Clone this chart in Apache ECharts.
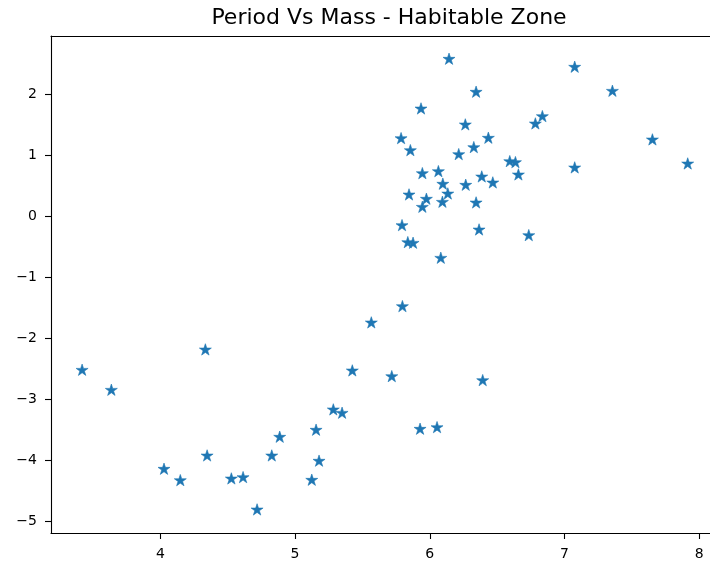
<!DOCTYPE html>
<html>
<head>
<meta charset="utf-8">
<script src="https://cdn.jsdelivr.net/npm/echarts@6/dist/echarts.min.js"></script>
<style>
html,body{margin:0;padding:0;background:#fff;}
#chart{width:710px;height:564px;}
</style>
</head>
<body>
<div id="chart"></div>
<script>
const chartTitle = "Period Vs Mass - Habitable Zone";

const massValues = [
  3.419, 3.636, 4.334, 4.027, 4.148, 4.347, 4.527, 4.614, 4.827, 4.886,
  4.718, 5.797, 5.566, 5.425, 5.718, 6.393, 5.284, 5.349, 5.156, 5.928,
  6.054, 5.178, 5.124,
  6.143, 6.344, 5.935, 6.264, 5.787, 6.435, 5.856, 6.327, 6.215, 6.784,
  6.836, 6.594, 6.636, 6.658, 5.945, 6.064, 6.097, 6.267, 6.386, 6.468,
  6.134, 5.846, 5.975, 5.945, 6.094, 6.344, 5.794, 6.366, 6.735, 5.837,
  5.876, 6.082, 7.076, 7.356, 7.653, 7.076, 7.915
];
const periodValues = [
  -2.520, -2.848, -2.187, -4.143, -4.330, -3.925, -4.302, -4.280, -3.925, -3.618,
  -4.810, -1.477, -1.744, -2.531, -2.625, -2.690, -3.170, -3.225, -3.503, -3.487,
  -3.461, -4.011, -4.323,
  2.579, 2.038, 1.764, 1.502, 1.277, 1.284, 1.080, 1.130, 1.015, 1.518,
  1.638, 0.900, 0.884, 0.682, 0.703, 0.736, 0.530, 0.513, 0.649, 0.551,
  0.370, 0.354, 0.284, 0.152, 0.234, 0.223, -0.149, -0.220, -0.313, -0.428,
  -0.438, -0.684, 2.448, 2.054, 1.256, 0.797, 0.862
];
const xTickValues = [4, 5, 6, 7, 8];
const yTickValues = [-5, -4, -3, -2, -1, 0, 1, 2];

const points = massValues.map((x, i) => [x, periodValues[i]]);
const fmt = v => String(v).replace('-', '\u2212');
const FONT = 'DejaVu Sans';
const starPath = 'path://M100,0 L122.45,69.1 L195.11,69.1 L136.33,111.8 L158.78,180.9 L100,138.2 L41.22,180.9 L63.67,111.8 L4.89,69.1 L77.55,69.1 Z';
const spine = {color: '#000', width: 1.1};

const chart = echarts.init(document.getElementById('chart'), null, {renderer: 'canvas'});
chart.setOption({
  animation: false,
  backgroundColor: '#fff',
  title: {
    text: chartTitle,
    left: 384,
    textAlign: 'center',
    top: 2,
    textStyle: {fontFamily: FONT, fontSize: 22, fontWeight: 'normal', color: '#000'}
  },
  grid: {left: 51, top: 36, right: 0, bottom: 31, show: false},
  xAxis: [{
    type: 'value',
    position: 'bottom',
    min: 3.188, max: 8.0805,
    splitLine: {show: false},
    axisLine: {show: true, onZero: false, lineStyle: spine},
    axisTick: {show: true, inside: false, length: 6, customValues: xTickValues, lineStyle: spine},
    axisLabel: {customValues: xTickValues, formatter: fmt, margin: 14,
      fontFamily: FONT, fontSize: 14, color: '#000'}
  }, {
    type: 'value',
    position: 'top',
    min: 3.188, max: 8.0805,
    splitLine: {show: false},
    axisLine: {show: true, onZero: false, lineStyle: spine},
    axisTick: {show: false},
    axisLabel: {show: false}
  }],
  yAxis: {
    type: 'value',
    min: -5.187, max: 2.961,
    splitLine: {show: false},
    axisLine: {show: true, onZero: false, lineStyle: spine},
    axisTick: {show: true, inside: false, length: 6, customValues: yTickValues, lineStyle: spine},
    axisLabel: {customValues: yTickValues, formatter: fmt, margin: 14,
      fontFamily: FONT, fontSize: 14, color: '#000'}
  },
  series: [{
    type: 'scatter',
    data: points,
    symbol: starPath,
    symbolSize: [12, 11.4],
    symbolOffset: [0, -0.6],
    itemStyle: {color: '#1f77b4', borderColor: '#1f77b4', borderWidth: 0.6, opacity: 1}
  }]
});
</script>
</body>
</html>
